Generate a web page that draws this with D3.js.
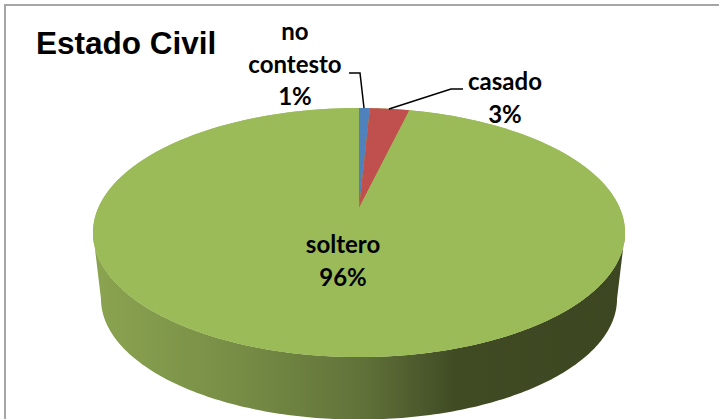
<!DOCTYPE html>
<html>
<head>
<meta charset="utf-8">
<script src="https://cdnjs.cloudflare.com/ajax/libs/d3/7.8.5/d3.min.js"></script>
<style>html,body{margin:0;padding:0;background:#fff;overflow:hidden}svg{display:block}</style>
</head>
<body>
<svg id="c" width="719" height="419"></svg>
<script>
const titleText = "Estado Civil";
const categories = ["no contesto", "casado", "soltero"];
const values = [0.8, 2.9, 96.3];
const colors = ["#4f81bd", "#c0504d", "#9bbb59"];

const svg = d3.select("#c");
const W = 719, H = 419;

// perspective projection of the unit circle
const cx = 359, cy = 208, k = 0.197, A = 119.7, B = 260.8;
const project = (a, scale = 1, dy = 0) => {
  const u = Math.sin(a), v = -Math.cos(a), d = 1 - k * v;
  return [cx + scale * B * u / d, cy + dy + scale * A * v / d];
};
const ring = (a0, a1, scale, dy) => d3.range(0, 181).map(i => project(a0 + (a1 - a0) * i / 180, scale, dy));
const line = d3.line();

svg.append("rect").attr("x", 5).attr("y", 5).attr("width", W + 20).attr("height", H + 20)
  .attr("fill", "#fff").attr("stroke", "#a6a6a6").attr("stroke-width", 2);

const grad = svg.append("defs").append("linearGradient").attr("id", "side")
  .attr("gradientUnits", "userSpaceOnUse").attr("x1", 94).attr("x2", 625).attr("y1", 0).attr("y2", 0);
[[0, "#8ba450"], [0.28, "#768c45"], [0.5, "#62733a"], [0.68, "#404b24"], [1, "#3c4620"]]
  .forEach(([o, c]) => grad.append("stop").attr("offset", o).attr("stop-color", c));

// side wall: from the widest point on one side, round the front, to the widest point on the other
const sideScale = 0.97, sideDrop = 67;
const full = 2 * Math.PI;
const widest = Math.acos(-k);
const sidePts = ring(0, full, 1, 0);
const wall = ring(widest, full - widest, sideScale, sideDrop)
  .concat(ring(full - widest, widest, 1, 0));
svg.append("path").attr("d", line(wall) + "Z").attr("fill", "url(#side)");

// top face slices
const arcs = d3.pie().sort(null)(values);
svg.append("path").attr("d", line(sidePts) + "Z").attr("fill", colors[2]);
svg.selectAll("path.slice").data(arcs).join("path").attr("class", "slice")
  .attr("fill", (d, i) => colors[i])
  .attr("d", d => "M" + cx + "," + cy + "L" + ring(d.startAngle, d.endAngle, 1, 0).map(p => p.join(",")).join("L") + "Z");

// leader lines
const leaders = [
  [[349, 73], [360, 73], [364, 108]],
  [[463, 89], [451, 89], [389, 109]]
];
svg.selectAll("path.leader").data(leaders).join("path").attr("class", "leader")
  .attr("d", line).attr("fill", "none").attr("stroke", "#000").attr("stroke-width", 1.5);

// labels
const pct = d3.format(".0%");
const total = d3.sum(values);
const labelLines = [
  { lines: ["no", "contesto", pct(values[0] / total)], x: 295, y: [40, 73, 105] },
  { lines: ["casado", pct(values[1] / total)], x: 505, y: [90, 123] },
  { lines: ["soltero", pct(values[2] / total)], x: 343, y: [253, 286] }
];
labelLines.forEach(l => l.lines.forEach((t, i) => {
  svg.append("text").attr("x", l.x).attr("y", l.y[i])
    .attr("text-anchor", "middle").attr("font-family", "Lato, 'Open Sans', sans-serif")
    .attr("font-weight", 700).attr("font-size", 24).attr("fill", "#000").text(t);
}));

svg.append("text").attr("x", 36).attr("y", 54)
  .attr("font-family", "'Liberation Sans', Arial, sans-serif")
  .attr("font-weight", 700).attr("font-size", 31.5).attr("fill", "#000").text(titleText);
</script>
</body>
</html>
